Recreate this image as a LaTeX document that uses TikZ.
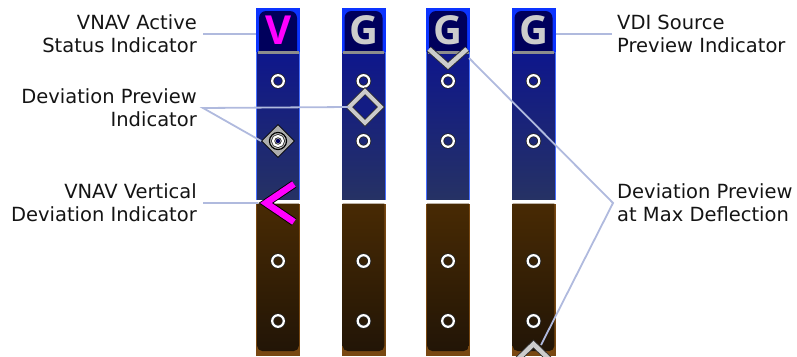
\documentclass[tikz,border=0pt]{standalone}
\usepackage{fontspec}
\setmainfont{Open Sans}
\newfontfamily\calloutfont{DejaVu Sans}
\usetikzlibrary{shapes.geometric,positioning,calc}
\definecolor{leader}{RGB}{176,186,222}
\definecolor{navyhead}{RGB}{0,0,92}
\definecolor{brightblue}{RGB}{12,52,255}
\definecolor{blueedge}{RGB}{70,110,255}
\definecolor{bluetop}{RGB}{14,22,140}
\definecolor{bluebot}{RGB}{38,50,100}
\definecolor{brownedge}{RGB}{120,72,18}
\definecolor{browntop}{RGB}{72,42,4}
\definecolor{brownbot}{RGB}{34,21,6}
\definecolor{vnav}{RGB}{255,0,255}
\definecolor{glyph}{RGB}{204,204,204}
\definecolor{headline}{RGB}{140,140,140}
\definecolor{ink}{RGB}{20,20,20}
\tikzset{
  callout/.style={font=\calloutfont\fontsize{19.5}{23}\selectfont, text=ink, inner sep=0pt},
  letter/.style={font=\fontsize{40}{40}\selectfont\bfseries, inner sep=0pt},
  leaderline/.style={draw=leader, line width=1.8pt},
  dot/.style={draw=black!85, line width=.8pt, double=white, double distance=2.2pt},
  chev/.style={draw=black!80, line width=.9pt, double=glyph, double distance=4.5pt},
  vdi/.style={draw=black, line width=.9pt, double=vnav, double distance=6.5pt},
}

\begin{document}
\begin{tikzpicture}[x=1pt,y=-1pt]
\useasboundingbox (0,0) rectangle (797,356);

% ----- indicator strips -----
\foreach \cx/\ltr/\ltrcol [count=\k] in {278/V/vnav,363.5/G/glyph,448/G/glyph,533.5/G/glyph}{
  % blue half
  \fill[blueedge] (\cx-22,8) rectangle (\cx+22,200);
  \shade[top color=bluetop,bottom color=bluebot] (\cx-20.8,52) rectangle (\cx+20.8,200);
  % source header
  \fill[brightblue] (\cx-22,8) rectangle (\cx+22,52);
  \fill[navyhead] (\cx-19,52) [rounded corners=7pt] -- (\cx-19,11) -- (\cx+19,11) [sharp corners] -- (\cx+19,52) -- cycle;
  \draw[line width=3pt, headline] (\cx-20.5,52) -- (\cx+20.5,52);
  \node[letter, text=\ltrcol] (letter\k) at (\cx,30.5) {\ltr};
  % centre line and brown half
  \fill[white] (\cx-22,200) rectangle (\cx+22,203.5);
  \fill[brownedge] (\cx-22,203.5) rectangle (\cx+22,356);
  \shade[top color=browntop,bottom color=brownbot] (\cx-20.8,203.5) [rounded corners=5pt] -- (\cx-20.8,351) -- (\cx+20.8,351) [sharp corners] -- (\cx+20.8,203.5) -- cycle;
  % scale dots
  \foreach \dy in {81,141,261,321}
    \draw[dot] (\cx,\dy) circle[radius=5.8];
}

% ----- deviation marks -----
\node[diamond, draw=black, line width=.8pt, fill=glyph!85!black, minimum width=33pt, minimum height=33pt, inner sep=0pt] (dpone) at (278,141) {};
\draw[black, line width=1.2pt, fill=glyph] (dpone.center) circle[radius=8.5];
\draw[dot] (dpone.center) circle[radius=5];
\fill[navyhead] (dpone.center) circle[radius=2.2];

\node[diamond, draw=black!80, line width=.8pt, double=glyph, double distance=4pt, fill=bluetop!80!bluebot, minimum width=32pt, minimum height=32pt, inner sep=0pt] (dptwo) at (365,107) {};

\draw[vdi] (294,184) -- (266,203) -- (294,222);
\draw[chev] (429,49) -- (448,66) -- (467,49);
\draw[chev] (516,361) -- (533.5,344) -- (551,361);

% ----- callouts -----
\node[callout, anchor=east, align=right] (lblstatus) at (197,34) {VNAV Active\\Status Indicator};
\node[callout, anchor=east, align=right] (lblpreview) at (197,108) {Deviation Preview\\Indicator};
\node[callout, anchor=east, align=right] (lblvdi) at (197,203) {VNAV Vertical\\Deviation Indicator};
\node[callout, anchor=west, align=left] (lblsource) at (617,34) {VDI Source\\Preview Indicator};
\node[callout, anchor=west, align=left] (lblmax) at (617,203) {Deviation Preview\\at Max Deflection};

\coordinate (statusedge) at (256,34);
\coordinate (sourceedge) at (555.5,34);
\coordinate (vditip) at (258,203);
\coordinate (maxtop) at (469,58);
\coordinate (maxbot) at (541,345);

% ----- leader lines -----
\draw[leaderline] ([xshift=6pt]lblstatus.east) -- (statusedge);
\draw[leaderline] (dptwo.west) -- ([xshift=6pt]lblpreview.east) -- (dpone.west);
\draw[leaderline] ([xshift=6pt]lblvdi.east) -- (vditip);
\draw[leaderline] (sourceedge) -- ([xshift=-5pt]lblsource.west);
\draw[leaderline] (maxtop) -- ([xshift=-4pt]lblmax.west) -- (maxbot);

\end{tikzpicture}
\end{document}
